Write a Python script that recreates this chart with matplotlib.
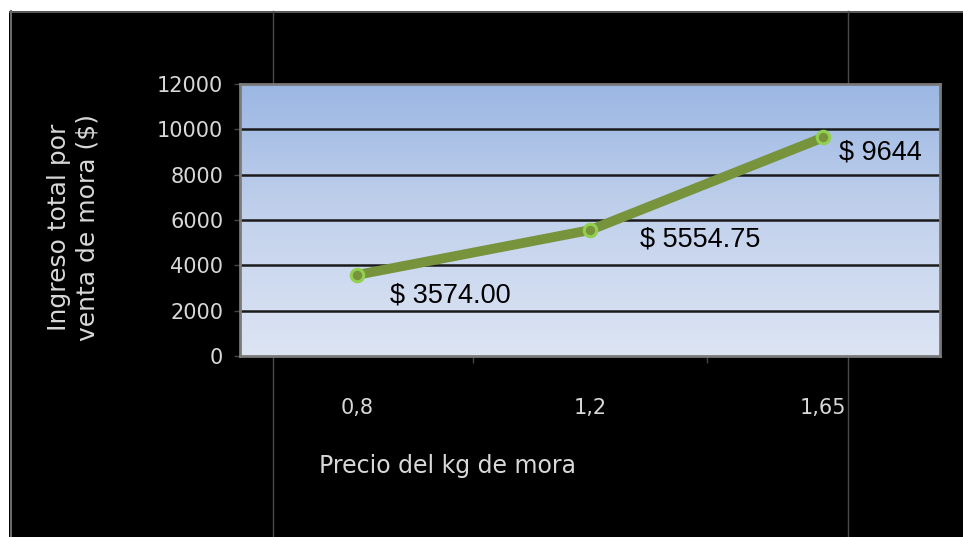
import numpy as np
import matplotlib
matplotlib.use("Agg")
import matplotlib.pyplot as plt
from matplotlib.patches import Rectangle
from matplotlib.lines import Line2D
from matplotlib.colors import LinearSegmentedColormap

# Ingreso según el precio del kg de mora
precios = ["0,8", "1,2", "1,65"]
ingresos = [3574.00, 5554.75, 9644]
etiquetas = ["$ 3574.00", "$ 5554.75", "$ 9644"]
y_ticks = [0, 2000, 4000, 6000, 8000, 10000, 12000]

W, H = 963, 537
fig = plt.figure(figsize=(W / 100, H / 100), dpi=100, facecolor="black")

def fx(px):
    return px / W

def fy(py):
    return 1 - py / H

# white margins and thin frame lines of the slide (behind the chart)
fig.add_artist(Rectangle((0, fy(11)), 1, 11 / H, transform=fig.transFigure,
                         facecolor="white", edgecolor="none", zorder=-2))
fig.add_artist(Rectangle((0, 0), fx(9), fy(11), transform=fig.transFigure,
                         facecolor="white", edgecolor="none", zorder=-2))
fig.add_artist(Line2D([fx(10), 1], [fy(11.5), fy(11.5)], transform=fig.transFigure,
                      color="#6a6a6a", lw=1.2, zorder=-1))
fig.add_artist(Line2D([fx(10.5), fx(10.5)], [0, fy(11)], transform=fig.transFigure,
                      color="#6a6a6a", lw=1.5, zorder=-1))
for xv in (272.5, 847.5):
    fig.add_artist(Line2D([fx(xv), fx(xv)], [0, fy(11)], transform=fig.transFigure,
                          color="#4a4a4a", lw=1.0, zorder=-1))

ax = fig.add_axes([fx(240), fy(356), fx(940) - fx(240), fy(84) - fy(356)])
ax.set_facecolor("#c0d0ec")

x = np.arange(len(precios))
ax.set_xlim(-0.5, len(precios) - 0.5)
ax.set_ylim(y_ticks[0], y_ticks[-1])

# vertical gradient fill of the plot area
cmap = LinearSegmentedColormap.from_list("fondo", ["#dde5f4", "#c3d2ec", "#9bb7e3"])
grad = np.linspace(0, 1, 256).reshape(-1, 1)
ax.imshow(grad, cmap=cmap, aspect="auto", origin="lower",
          extent=(-0.5, len(precios) - 0.5, y_ticks[0], y_ticks[-1]), zorder=0)

for v in y_ticks[1:-1]:
    ax.axhline(v, color="#1a1a1a", lw=1.8, zorder=1)

ax.plot(x, ingresos, color="#77933c", lw=7, solid_capstyle="round", zorder=3)
ax.plot(x, ingresos, "o", ms=9, mfc="#77933c", mec="#92d050", mew=2.2, zorder=4)

label_font = ["Liberation Sans Narrow", "Liberation Sans", "DejaVu Sans"]
offsets = [(24, -15), (36, -7), (11, -11)]
for xi, yi, txt, (dx, dy) in zip(x, ingresos, etiquetas, offsets):
    ax.annotate(txt, (xi, yi), xytext=(dx, dy), textcoords="offset points",
                ha="left", va="center", fontsize=19.5, color="black",
                family=label_font, zorder=5)

# axis frame
for side in ("top", "right", "bottom", "left"):
    ax.spines[side].set_color("#7a7a7a")
    ax.spines[side].set_linewidth(2)

ax.set_yticks(y_ticks)
ax.set_yticklabels([str(v) for v in y_ticks])
ax.tick_params(axis="y", colors="#444444", labelcolor="#d8d8d8", length=4,
               width=1, labelsize=15, pad=8)

# category boundaries carry the tick marks, centres carry the labels
ax.set_xticks([i + 0.5 for i in range(len(precios) - 1)])
ax.set_xticklabels([])
ax.tick_params(axis="x", which="major", colors="#444444", length=5, width=1)
ax.set_xticks(x, minor=True)
ax.set_xticklabels(precios, minor=True)
ax.tick_params(axis="x", which="minor", length=0, labelcolor="#d8d8d8",
               labelsize=15, pad=30)

fig.text(fx(447), fy(466), "Precio del kg de mora", color="#d8d8d8",
         fontsize=17, ha="center", va="center")
fig.text(fx(73), fy(227), "Ingreso total por\nventa de mora ($)", color="#d8d8d8",
         fontsize=18, ha="center", va="center", rotation=90, linespacing=1.25)

fig.savefig("out.png", dpi=100, facecolor="black")
